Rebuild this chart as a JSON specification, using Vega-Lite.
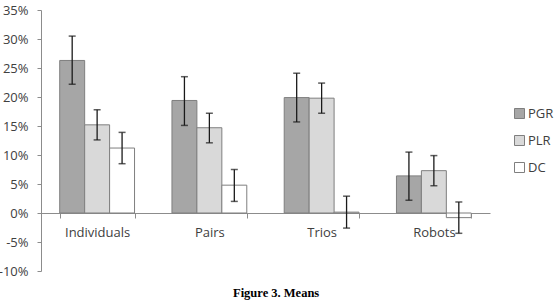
{
  "$schema": "https://vega.github.io/schema/vega-lite/v6.json",
  "width": 449,
  "height": 261,
  "autosize": "none",
  "padding": {"left": 41, "top": 10, "right": 64, "bottom": 33},
  "background": "white",
  "config": {
    "view": {"stroke": null},
    "font": "Open Sans",
    "axisY": {
      "title": null,
      "labelFont": "Open Sans",
      "labelFontSize": 13,
      "labelColor": "#404040",
      "labelPadding": 9,
      "labelOverlap": false,
      "labelBound": false,
      "tickSize": 4,
      "tickColor": "#8c8c8c",
      "domainColor": "#8c8c8c",
      "grid": false
    }
  },
  "title": {
    "text": "Figure 3. Means",
    "orient": "bottom",
    "anchor": "middle",
    "frame": "bounds",
    "font": "Liberation Serif",
    "fontWeight": "bold",
    "fontSize": 12.5,
    "color": "#000000",
    "offset": 9
  },
  "data": {
    "values": [
      {"group": "Individuals", "series": "PGR", "value": 26.3, "lo": 22.2, "hi": 30.5},
      {"group": "Individuals", "series": "PLR", "value": 15.2, "lo": 12.6, "hi": 17.8},
      {"group": "Individuals", "series": "DC", "value": 11.2, "lo": 8.5, "hi": 13.9},
      {"group": "Pairs", "series": "PGR", "value": 19.4, "lo": 15.1, "hi": 23.5},
      {"group": "Pairs", "series": "PLR", "value": 14.7, "lo": 12.1, "hi": 17.2},
      {"group": "Pairs", "series": "DC", "value": 4.8, "lo": 2.0, "hi": 7.5},
      {"group": "Trios", "series": "PGR", "value": 19.9, "lo": 15.7, "hi": 24.1},
      {"group": "Trios", "series": "PLR", "value": 19.8, "lo": 17.2, "hi": 22.4},
      {"group": "Trios", "series": "DC", "value": 0.15, "lo": -2.6, "hi": 2.9},
      {"group": "Robots", "series": "PGR", "value": 6.4, "lo": 2.2, "hi": 10.5},
      {"group": "Robots", "series": "PLR", "value": 7.3, "lo": 4.7, "hi": 9.9},
      {"group": "Robots", "series": "DC", "value": -0.8, "lo": -3.5, "hi": 1.9}
    ]
  },
  "encoding": {
    "x": {
      "field": "group",
      "type": "nominal",
      "sort": ["Individuals", "Pairs", "Trios", "Robots"],
      "scale": {"paddingInner": 0.3333, "paddingOuter": 0.1667},
      "axis": {
        "title": null,
        "orient": "bottom",
        "offset": -58,
        "labelAngle": 0,
        "labelFont": "Open Sans",
        "labelFontSize": 13,
        "labelColor": "#404040",
        "labelPadding": 8,
        "labelOverlap": false,
        "domainColor": "#8c8c8c",
        "tickColor": "#8c8c8c",
        "tickSize": 5,
        "tickBand": "extent",
        "grid": false
      }
    },
    "xOffset": {
      "field": "series",
      "type": "nominal",
      "sort": ["PGR", "PLR", "DC"],
      "scale": {"paddingInner": 0, "paddingOuter": 0}
    }
  },
  "layer": [
    {
      "mark": {"type": "bar", "stroke": "#7f7f7f", "strokeWidth": 1},
      "encoding": {
        "y": {
          "field": "value",
          "type": "quantitative",
          "scale": {"domain": [-10, 35], "nice": false, "zero": false},
          "axis": {"values": [-10, -5, 0, 5, 10, 15, 20, 25, 30, 35], "labelExpr": "datum.value + '%'"}
        },
        "color": {
          "field": "series",
          "type": "nominal",
          "sort": ["PGR", "PLR", "DC"],
          "scale": {"domain": ["PGR", "PLR", "DC"], "range": ["#a6a6a6", "#d9d9d9", "#ffffff"]},
          "legend": {
            "title": null,
            "orient": "none",
            "legendX": 472,
            "legendY": 97,
            "symbolType": "square",
            "symbolSize": 100,
            "symbolStrokeColor": "#7f7f7f",
            "symbolStrokeWidth": 1,
            "labelFont": "Open Sans",
            "labelFontSize": 13,
            "labelColor": "#404040",
            "labelOffset": 2,
            "rowPadding": 12
          }
        }
      }
    },
    {
      "mark": {"type": "rule", "color": "#1a1a1a", "strokeWidth": 1.3},
      "encoding": {
        "y": {"field": "lo", "type": "quantitative", "axis": {"values": [-10, -5, 0, 5, 10, 15, 20, 25, 30, 35], "labelExpr": "datum.value + '%'"}},
        "y2": {"field": "hi"}
      }
    },
    {
      "mark": {"type": "tick", "color": "#1a1a1a", "size": 7, "thickness": 1.5},
      "encoding": {"y": {"field": "lo", "type": "quantitative", "axis": {"values": [-10, -5, 0, 5, 10, 15, 20, 25, 30, 35], "labelExpr": "datum.value + '%'"}}}
    },
    {
      "mark": {"type": "tick", "color": "#1a1a1a", "size": 7, "thickness": 1.5},
      "encoding": {"y": {"field": "hi", "type": "quantitative", "axis": {"values": [-10, -5, 0, 5, 10, 15, 20, 25, 30, 35], "labelExpr": "datum.value + '%'"}}}
    }
  ]
}
